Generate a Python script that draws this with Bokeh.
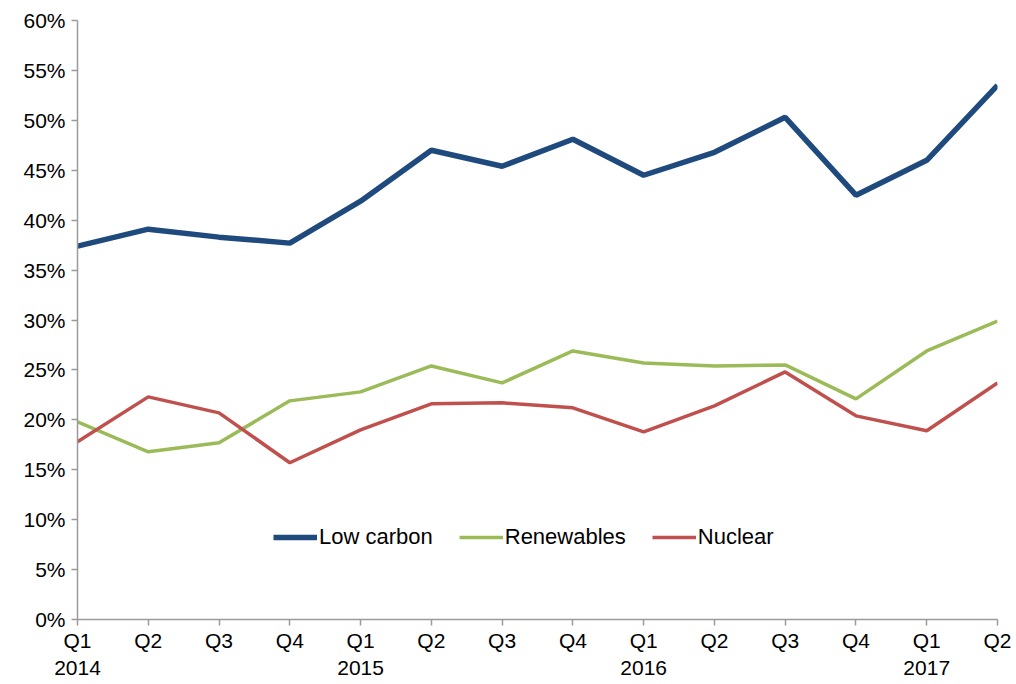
from bokeh.plotting import figure
from bokeh.models import FixedTicker, NumeralTickFormatter, Range1d, Legend, LegendItem
from bokeh.embed import file_html
from bokeh.resources import INLINE

quarters = ["Q1\n2014", "Q2", "Q3", "Q4", "Q1\n2015", "Q2", "Q3", "Q4",
            "Q1\n2016", "Q2", "Q3", "Q4", "Q1\n2017", "Q2"]
low_carbon = [37.4, 39.1, 38.3, 37.7, 41.9, 47.0, 45.4, 48.1, 44.5, 46.8, 50.3, 42.5, 46.0, 53.5]
renewables = [19.8, 16.8, 17.7, 21.9, 22.8, 25.4, 23.7, 26.9, 25.7, 25.4, 25.5, 22.1, 26.9, 29.9]
nuclear = [17.8, 22.3, 20.7, 15.7, 19.0, 21.6, 21.7, 21.2, 18.8, 21.4, 24.8, 20.4, 18.9, 23.7]
y_ticks = [0, 0.05, 0.10, 0.15, 0.20, 0.25, 0.30, 0.35, 0.40, 0.45, 0.50, 0.55, 0.60]

xs = list(range(len(quarters)))
FONT = "Liberation Sans"

p = figure(width=1016, height=684, output_backend="svg", toolbar_location=None,
           x_range=Range1d(0, len(quarters) - 1), y_range=Range1d(0, 0.6),
           min_border_left=77, min_border_right=19, min_border_top=20, min_border_bottom=65)
p.outline_line_color = None
p.grid.visible = False

ax = p.xaxis[0]
ax.ticker = FixedTicker(ticks=xs)
ax.major_label_overrides = {i: q for i, q in enumerate(quarters)}
ay = p.yaxis[0]
ay.ticker = FixedTicker(ticks=y_ticks)
ay.formatter = NumeralTickFormatter(format="0%")
for a in (ax, ay):
    a.axis_line_color = "#9a9a9a"
    a.axis_line_width = 1.5
    a.major_tick_line_color = "#9a9a9a"
    a.major_tick_line_width = 1.5
    a.major_tick_out = 6
    a.major_tick_in = 0
    a.minor_tick_line_color = None
    a.major_label_text_font = FONT
    a.major_label_text_font_size = "21px"
    a.major_label_text_color = "#000000"
ax.major_label_standoff = 3
ay.major_label_standoff = 6

r1 = p.line(xs, [v / 100 for v in low_carbon], line_color="#1F4A7E", line_width=5.5)
r2 = p.line(xs, [v / 100 for v in renewables], line_color="#9BBB59", line_width=3.5)
r3 = p.line(xs, [v / 100 for v in nuclear], line_color="#C0504D", line_width=3.5)

legend = Legend(items=[LegendItem(label="Low carbon", renderers=[r1]),
                       LegendItem(label="Renewables", renderers=[r2]),
                       LegendItem(label="Nuclear", renderers=[r3])],
                orientation="horizontal", location=(196, 69),
                border_line_color=None, background_fill_alpha=0,
                label_text_font=FONT, label_text_font_size="22px",
                label_text_color="#000000",
                glyph_width=44, glyph_height=24, label_height=24,
                label_standoff=2, spacing=26, padding=0, margin=0)
p.add_layout(legend, "center")

open("out.html", "w").write(file_html(p, INLINE))
